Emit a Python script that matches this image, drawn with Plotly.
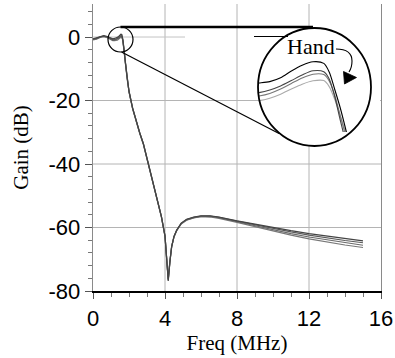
import math
import plotly.graph_objects as go

# ---------------- data ----------------
freq_mhz = [0, 0.2, 0.4, 0.6, 0.8, 1.0, 1.1, 1.2, 1.25, 1.3, 1.35, 1.4, 1.45, 1.5, 1.55,
            1.6, 1.625, 1.65, 1.675, 1.7, 1.725, 1.75, 1.8, 1.9, 2.0, 2.2, 2.4, 2.6, 2.8,
            3.0, 3.2, 3.4, 3.6, 3.8, 4.0, 4.09, 4.18, 4.27, 4.37, 4.5, 4.65, 4.9, 5.2,
            5.6, 6.0, 6.5, 7.0, 8.0, 9.0, 10.0, 11.0, 12.0, 13.0, 14.0, 15.0]

gain_a = [-0.6, -0.3, 0.2, 0.45, 0.15, -0.45, -0.6, -0.45, -0.25, -0.2, -0.13, 0.06, 0.4, 0.69,
          0.86, 0.78, 0.35, -0.5, -1.4, -2.45, -3.6, -5.0, -8.0, -13.0, -17.0, -22.3, -26.5,
          -30.2, -33.6, -38.0, -42.8, -47.3, -51.8, -56.5, -62.6, -68.8, -76.8, -71.0, -66.0,
          -62.8, -60.8, -58.6, -57.4, -56.7, -56.3, -56.3, -56.7, -57.9, -59.0, -60.0, -61.0,
          -61.9, -62.7, -63.5, -64.2]

gain_b = [-0.7, -0.45, 0.05, 0.3, 0.0, -0.7, -0.9, -0.85, -0.75, -0.68, -0.55, -0.35, -0.08, 0.2,
          0.41, 0.36, 0.0, -0.85, -2.0, -3.1, -4.3, -5.6, -8.5, -13.4, -17.3, -22.6, -26.8,
          -30.4, -33.8, -38.2, -43.0, -47.5, -52.0, -56.7, -62.8, -69.0, -76.6, -71.0, -66.1,
          -62.9, -60.9, -58.7, -57.5, -56.8, -56.4, -56.4, -56.8, -58.0, -59.2, -60.3, -61.4,
          -62.4, -63.3, -64.1, -64.8]

gain_c = [-0.75, -0.5, 0.0, 0.25, -0.05, -0.8, -1.0, -0.98, -0.92, -0.85, -0.72, -0.5, -0.22, 0.05,
          0.24, 0.22, -0.1, -0.8, -1.78, -2.8, -4.0, -5.4, -8.3, -13.3, -17.2, -22.5, -26.7,
          -30.3, -33.7, -38.1, -42.9, -47.4, -51.9, -56.6, -62.7, -68.9, -76.4, -70.8, -66.0,
          -62.9, -60.9, -58.8, -57.6, -56.9, -56.5, -56.5, -56.9, -58.2, -59.5, -60.7, -61.9,
          -63.0, -63.9, -64.8, -65.6]

gain_d = [-0.9, -0.65, -0.15, 0.1, -0.2, -0.95, -1.15, -1.15, -1.12, -1.08, -0.96, -0.76, -0.5, -0.26,
          -0.09, -0.08, -0.38, -1.0, -1.8, -2.65, -3.8, -5.2, -8.2, -13.2, -17.1, -22.4, -26.6,
          -30.3, -33.7, -38.1, -42.9, -47.4, -51.9, -56.6, -62.7, -68.9, -76.2, -70.6, -65.9,
          -62.9, -61.0, -58.9, -57.7, -57.0, -56.6, -56.7, -57.1, -58.4, -59.8, -61.1, -62.4,
          -63.6, -64.6, -65.5, -66.3]

x_ticks = [0, 4, 8, 12, 16]
y_ticks = [-80, -60, -40, -20, 0]
x_title = "Freq (MHz)"
y_title = "Gain (dB)"
note_text = "Hand"

# ---------------- geometry ----------------
W, H = 395, 358
L, R, T, B = 93, 381, 4, 291
X_RANGE = [0, 16]
Y_RANGE = [-80, 10.4]


def fx(px):
    return (px - L) / (R - L)


def fy(py):
    return (B - py) / (B - T)


def dx_of(px):
    return X_RANGE[0] + (px - L) * (X_RANGE[1] - X_RANGE[0]) / (R - L)


def dy_of(py):
    return Y_RANGE[1] - (py - T) * (Y_RANGE[1] - Y_RANGE[0]) / (B - T)


# big magnifier circle (pixels)
CX, CY, RX, RY = 314.5, 87.0, 56.5, 59.0
# small circle
SX, SY, SR = 120.5, 39.5, 12.5

fig = go.Figure()

main_cols = ["#777777", "#6a6a6a", "#5a5a5a", "#444444"]
inset_cols = ["#aaaaaa", "#777777", "#444444", "#000000"]
series = [gain_d, gain_c, gain_b, gain_a]

for s, c in zip(series, main_cols):
    fig.add_trace(go.Scatter(x=freq_mhz, y=s, mode="lines",
                             line=dict(color=c, width=1.2), showlegend=False,
                             hoverinfo="skip", xaxis="x", yaxis="y"))

for s, c in zip(series, inset_cols):
    fig.add_trace(go.Scatter(x=freq_mhz, y=s, mode="lines",
                             line=dict(color=c, width=1.1, shape="spline", smoothing=0.8),
                             showlegend=False, hoverinfo="skip", xaxis="x2", yaxis="y2"))

shapes = []
GRID = "#b4b4b4"


def gl(x0, y0, x1, y1, color=GRID, width=1, layer="below"):
    shapes.append(dict(type="line", xref="x", yref="y", x0=x0, y0=y0, x1=x1, y1=y1,
                       line=dict(color=color, width=width), layer=layer))


# vertical grid
for xv in [4, 8]:
    gl(xv, Y_RANGE[0], xv, Y_RANGE[1])
px12 = L + (12 - X_RANGE[0]) * (R - L) / (X_RANGE[1] - X_RANGE[0])
ddy = RY * math.sqrt(max(0.0, 1 - ((px12 - CX) / RX) ** 2))
gl(12, dy_of(CY - ddy), 12, Y_RANGE[1])
gl(12, Y_RANGE[0], 12, dy_of(CY + ddy))

# horizontal grid
for yv in [-40, -60]:
    gl(X_RANGE[0], yv, X_RANGE[1], yv)
py20 = T + (Y_RANGE[1] - (-20)) * (B - T) / (Y_RANGE[1] - Y_RANGE[0])
ddx = RX * math.sqrt(max(0.0, 1 - ((py20 - CY) / RY) ** 2))
gl(X_RANGE[0], -20, dx_of(CX - ddx), -20)
gl(dx_of(CX + ddx), -20, X_RANGE[1], -20)
# partial zero line
gl(X_RANGE[0], 0, dx_of(185), 0, color="#c4c4c4")


def pl(x0, y0, x1, y1, color="black", width=1.0):
    shapes.append(dict(type="line", xref="paper", yref="paper",
                       x0=fx(x0), y0=fy(y0), x1=fx(x1), y1=fy(y1),
                       line=dict(color=color, width=width), layer="above"))


# inset gridline
shapes.append(dict(type="line", xref="paper", yref="paper", x0=fx(259), y0=fy(72), x1=fx(380),
                   y1=fy(72), line=dict(color="#c8c8c8", width=1.2), layer="below"))

# circles
shapes.append(dict(type="circle", xref="paper", yref="paper",
                   x0=fx(SX - SR), x1=fx(SX + SR), y0=fy(SY + SR), y1=fy(SY - SR),
                   line=dict(color="black", width=1.2), layer="above"))
shapes.append(dict(type="circle", xref="paper", yref="paper",
                   x0=fx(CX - RX), x1=fx(CX + RX), y0=fy(CY + RY), y1=fy(CY - RY),
                   line=dict(color="black", width=1.8), layer="above"))

# connector lines
pl(SX, SY - SR, 313, SY - SR, width=2.4)
pl(SX + 1, SY + SR, 279, 133.5, width=1.2)
pl(254, 36.5, 288, 36.5, width=1.0)


def ppath(points_cmd):
    out = []
    for tok in points_cmd:
        if isinstance(tok, str):
            out.append(tok)
        else:
            out.append(f"{fx(tok[0]):.5f},{fy(tok[1]):.5f}")
    return " ".join(out)


arrow_path = ppath(["M", (336, 49), "C", (346, 49), (352, 53), (352, 61),
                    "C", (352, 66), (351, 69), (349, 72)])
shapes.append(dict(type="path", xref="paper", yref="paper", path=arrow_path,
                   line=dict(color="black", width=1.1), layer="above"))
tri_path = ppath(["M", (343.5, 71.5), "L", (344.5, 84), "L", (356.5, 77.5), "Z"])
shapes.append(dict(type="path", xref="paper", yref="paper", path=tri_path,
                   fillcolor="black", line=dict(color="black", width=0.8), layer="above"))

fig.update_layout(
    width=W, height=H,
    margin=dict(l=L, r=W - R, t=T, b=H - B, autoexpand=False),
    paper_bgcolor="white", plot_bgcolor="white",
    shapes=shapes,
    annotations=[dict(text=note_text, xref="paper", yref="paper", x=fx(311), y=fy(46),
                      xanchor="center", yanchor="middle", showarrow=False,
                      font=dict(family="Liberation Serif", size=22, color="black"))],
    xaxis=dict(range=X_RANGE, tickvals=x_ticks, ticktext=[str(v) for v in x_ticks],
               showgrid=False, zeroline=False, showline=True, linecolor="black", linewidth=2,
               ticks="outside", ticklen=6, tickwidth=1, tickcolor="#555555",
               minor=dict(dtick=1, tick0=0, ticks="outside", ticklen=4, tickcolor="#777777",
                          showgrid=False),
               ticklabelstandoff=1,
               tickfont=dict(family="Liberation Sans", size=22, color="black"),
               title=dict(text=x_title, standoff=3,
                          font=dict(family="Liberation Serif", size=21, color="black")),
               domain=[0, 1], fixedrange=True),
    yaxis=dict(range=Y_RANGE, tickvals=y_ticks, ticktext=[str(v) for v in y_ticks],
               showgrid=False, zeroline=False, showline=True, linecolor="#8a8a8a", linewidth=1.3,
               mirror=True,
               ticks="outside", ticklen=7, tickwidth=1, tickcolor="#555555",
               minor=dict(dtick=4, tick0=0, ticks="outside", ticklen=4, tickcolor="#777777",
                          showgrid=False),
               tickfont=dict(family="Liberation Sans", size=22, color="black"),
               title=dict(text=y_title, standoff=14,
                          font=dict(family="Liberation Serif", size=21, color="black")),
               domain=[0, 1], fixedrange=True),
    xaxis2=dict(domain=[fx(258), fx(380)], range=[1.2954, 1.8602], visible=False,
                anchor="y2", fixedrange=True),
    yaxis2=dict(domain=[fy(132), fy(27)], range=[-2.65, 2.6], visible=False,
                anchor="x2", fixedrange=True),
)

fig.write_html("out.html", config={"displayModeBar": False, "staticPlot": True},
               post_script="document.body.style.margin='0';document.body.style.overflow='hidden';")
